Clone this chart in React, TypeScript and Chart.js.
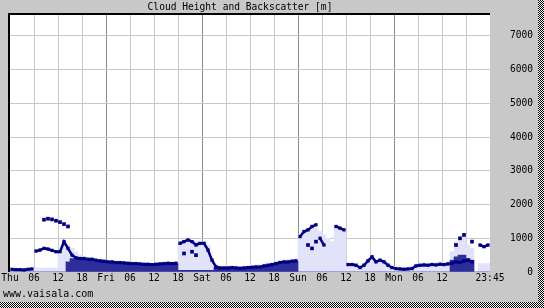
import React, { useEffect, useRef } from 'react';
import { Chart, registerables } from 'chart.js';

Chart.register(...registerables);

const TITLE = 'Cloud Height and Backscatter [m]';
const FOOTER = 'www.vaisala.com';
const Y_MAX = 7620;
const X_MAX = 120;
const yTicks = [0, 1000, 2000, 3000, 4000, 5000, 6000, 7000];
const xTickHours = [0, 6, 12, 18, 24, 30, 36, 42, 48, 54, 60, 66, 72, 78, 84, 90, 96, 102, 108, 114, 120];
const xTickLabels = ['Thu', '06', '12', '18', 'Fri', '06', '12', '18', 'Sat', '06', '12', '18', 'Sun', '06', '12', '18', 'Mon', '06', '12', '', '23:45'];
const dayStartHours = [24, 48, 72, 96];

// hourly values, Thu 00 .. Mon 23
const cloudLow: (number | null)[] = [
  80, 70, 70, 60, 80, 90, 620, 650, 700, 680, 640, 600,
  600, 900, 700, 500, 420, 400, 400, 380, 380, 350, 330, 320,
  300, 300, 280, 280, 270, 260, 250, 250, 240, 230, 230, 220,
  230, 240, 250, 260, 250, 260, 850, 900, 950, 900, 800, 850,
  850, 650, 350, 150, 120, 120, 120, 130, 120, 110, 120, 130,
  140, 150, 150, 180, 200, 220, 250, 280, 300, 300, 320, 330,
  1050, 1200, 1250, 1350, 1400, 1000, 800, null, null, 1350, 1300, 1250,
  220, 220, 200, 130, 200, 330, 450, 300, 350, 300, 200, 130,
  100, 90, 80, 90, 100, 180, 200, 210, 200, 220, 210, 230,
  220, 240, 260, 300, 280, 330, 350, 300, null, 800, 750, 800,
];

const cloudSecond: (number | null)[] = [
  null, null, null, null, null, null, null, null, 1550, 1580, 1560, 1520,
  1480, 1420, 1350, null, null, null, null, null, null, null, null, null,
  null, null, null, null, null, null, null, null, null, null, null, null,
  null, null, null, null, null, null, null, 550, null, 600, 500, null,
  null, null, null, null, null, null, null, null, null, null, null, null,
  null, null, null, null, null, null, null, null, null, null, null, null,
  null, null, 800, 700, 900, null, null, null, null, null, null, null,
  null, null, null, null, null, null, null, null, null, null, null, null,
  null, null, null, null, null, null, null, null, null, null, null, null,
  null, null, null, 800, 1000, 1100, null, 900, null, null, null, null,
];

const backscatterLight: number[] = [
  100, 100, 100, 100, 100, 100, 120, 120, 120, 120, 120, 120,
  500, 800, 800, 700, 600, 500, 450, 400, 380, 350, 330, 320,
  320, 320, 300, 300, 300, 290, 280, 280, 270, 260, 260, 250,
  260, 270, 280, 290, 280, 290, 900, 950, 1000, 950, 900, 900,
  900, 800, 400, 220, 180, 180, 180, 190, 180, 170, 180, 190,
  200, 210, 210, 240, 260, 280, 310, 340, 360, 360, 380, 390,
  1100, 1200, 1250, 1300, 1300, 1200, 1100, 1000, 900, 1350, 1300, 1200,
  280, 280, 260, 190, 260, 390, 500, 360, 410, 360, 260, 190,
  160, 150, 140, 150, 160, 240, 260, 270, 260, 280, 270, 290,
  280, 300, 600, 900, 1000, 1100, 800, 700, 0, 250, 250, 250,
];

const backscatterDense: number[] = [
  0, 0, 0, 0, 0, 0, 0, 0, 0, 0, 0, 0,
  0, 0, 300, 400, 400, 380, 380, 350, 350, 330, 300, 300,
  280, 280, 260, 260, 250, 250, 240, 240, 230, 220, 220, 210,
  220, 230, 240, 250, 240, 250, 50, 50, 50, 50, 50, 50,
  50, 50, 50, 140, 110, 110, 110, 120, 110, 100, 110, 120,
  130, 140, 140, 170, 190, 210, 240, 270, 280, 280, 300, 310,
  0, 0, 0, 0, 0, 0, 0, 0, 0, 0, 0, 0,
  0, 0, 0, 0, 0, 0, 0, 0, 0, 0, 0, 0,
  0, 0, 0, 0, 0, 0, 0, 0, 0, 0, 0, 0,
  0, 0, 350, 450, 500, 500, 400, 350, 0, 0, 0, 0,
];

const NAVY = 'rgb(0,0,128)';
const DENSE = 'rgb(45,45,155)';
const LIGHT = 'rgb(226,226,250)';
const GRID = '#c8c8c8';
const GRID_DAY = '#8c8c8c';
const BG = 'rgb(200,200,200)';
const MONO = '"DejaVu Sans Mono", monospace';
const JUMP = 320;

const toPoints = (arr: (number | null)[]) =>
  arr.map((v, i) => ({ x: i + 0.5, y: v }));

const framePlugin = {
  id: 'frame',
  beforeDraw(chart: any) {
    const { ctx, width, height, chartArea } = chart;
    const { left, top, right, bottom } = chartArea;
    ctx.save();
    ctx.fillStyle = BG;
    ctx.fillRect(0, 0, width, height);
    ctx.fillStyle = '#ffffff';
    ctx.fillRect(left, top, right - left, bottom - top);
    const pc = document.createElement('canvas');
    pc.width = 2;
    pc.height = 2;
    const p = pc.getContext('2d')!;
    p.fillStyle = '#ffffff';
    p.fillRect(0, 0, 2, 2);
    p.fillStyle = '#000000';
    p.fillRect(0, 0, 1, 1);
    p.fillRect(1, 1, 1, 1);
    const pat = ctx.createPattern(pc, 'repeat');
    ctx.fillStyle = pat;
    ctx.fillRect(538, 0, width - 538, height);
    ctx.fillRect(0, 302, width, height - 302);
    ctx.restore();
  },
  afterDraw(chart: any) {
    const { ctx, chartArea } = chart;
    const { left, top, right, bottom } = chartArea;
    ctx.save();
    ctx.fillStyle = '#000000';
    ctx.fillRect(left - 2, top - 2, right - left + 2, 2);
    ctx.fillRect(left - 2, top - 2, 2, bottom - top + 2);
    ctx.font = `9.6px ${MONO}`;
    ctx.textBaseline = 'middle';
    ctx.textAlign = 'center';
    ctx.fillText(TITLE, 240, 7.5);
    ctx.font = `10px ${MONO}`;
    ctx.textAlign = 'left';
    ctx.fillText(FOOTER, 3, 294);
    ctx.restore();
  },
};

export default function App() {
  const ref = useRef<HTMLCanvasElement | null>(null);
  useEffect(() => {
    if (!ref.current) return;
    const chart = new Chart(ref.current, {
      type: 'bar',
      data: {
        datasets: [
          {
            type: 'bar',
            data: toPoints(backscatterLight) as any,
            backgroundColor: LIGHT,
            borderWidth: 0,
            grouped: false,
            barPercentage: 1,
            categoryPercentage: 1,
            order: 4,
          } as any,
          {
            type: 'bar',
            data: toPoints(backscatterDense) as any,
            backgroundColor: DENSE,
            borderWidth: 0,
            grouped: false,
            barPercentage: 1,
            categoryPercentage: 1,
            order: 3,
          } as any,
          {
            type: 'line',
            data: toPoints(cloudSecond) as any,
            showLine: false,
            pointStyle: 'rect',
            pointRadius: 2.6,
            pointBackgroundColor: NAVY,
            pointBorderWidth: 0,
            order: 2,
          } as any,
          {
            type: 'line',
            data: toPoints(cloudLow) as any,
            borderColor: NAVY,
            borderWidth: 2.5,
            pointStyle: 'rect',
            pointRadius: 2.3,
            pointBackgroundColor: NAVY,
            pointBorderWidth: 0,
            tension: 0,
            spanGaps: false,
            segment: {
              borderColor: (c: any) =>
                Math.abs(c.p0.parsed.y - c.p1.parsed.y) > JUMP ? 'rgba(0,0,0,0)' : undefined,
            },
            order: 1,
          } as any,
        ],
      },
      options: {
        animation: false,
        responsive: false,
        devicePixelRatio: 1,
        layout: { padding: { left: 10, top: 15, right: 11, bottom: 0 } },
        plugins: {
          legend: { display: false },
          tooltip: { enabled: false },
          title: { display: false },
        },
        scales: {
          x: {
            type: 'linear',
            min: 0,
            max: X_MAX,
            offset: false,
            afterBuildTicks: (s: any) => {
              s.ticks = xTickHours.map((v) => ({ value: v }));
            },
            afterFit: (s: any) => {
              s.height = 36;
              s.paddingLeft = 0;
              s.paddingRight = 0;
              s.paddingTop = 0;
              s.paddingBottom = 0;
            },
            ticks: {
              autoSkip: false,
              maxRotation: 0,
              padding: 1,
              color: '#000',
              font: { family: MONO, size: 9.6 },
              callback: (_v: any, i: number) => xTickLabels[i],
            },
            grid: {
              offset: false,
              drawTicks: false,
              lineWidth: 1,
              color: (c: any) => {
                const v = c.tick && c.tick.value;
                if (v === 0 || v === X_MAX) return 'rgba(0,0,0,0)';
                return dayStartHours.includes(v) ? GRID_DAY : GRID;
              },
            },
            border: { display: false },
          },
          y: {
            type: 'linear',
            position: 'right',
            min: 0,
            max: Y_MAX,
            afterBuildTicks: (s: any) => {
              s.ticks = yTicks.map((v) => ({ value: v }));
            },
            afterFit: (s: any) => {
              s.width = 43;
              s.paddingTop = 0;
              s.paddingBottom = 0;
              s.paddingLeft = 0;
              s.paddingRight = 0;
            },
            ticks: {
              crossAlign: 'far',
              padding: 20,
              color: '#000',
              font: { family: MONO, size: 9.6 },
              callback: (v: any) => String(v),
            },
            grid: {
              drawTicks: false,
              lineWidth: 1,
              color: (c: any) => (c.tick && c.tick.value === 0 ? 'rgba(0,0,0,0)' : GRID),
            },
            border: { display: false },
          },
        },
      } as any,
      plugins: [framePlugin],
    });
    return () => chart.destroy();
  }, []);
  return (
    <div style={{ position: 'fixed', left: 0, top: 0, width: 544, height: 308 }}>
      <canvas ref={ref} width={544} height={308} style={{ width: 544, height: 308, display: 'block' }} />
    </div>
  );
}
